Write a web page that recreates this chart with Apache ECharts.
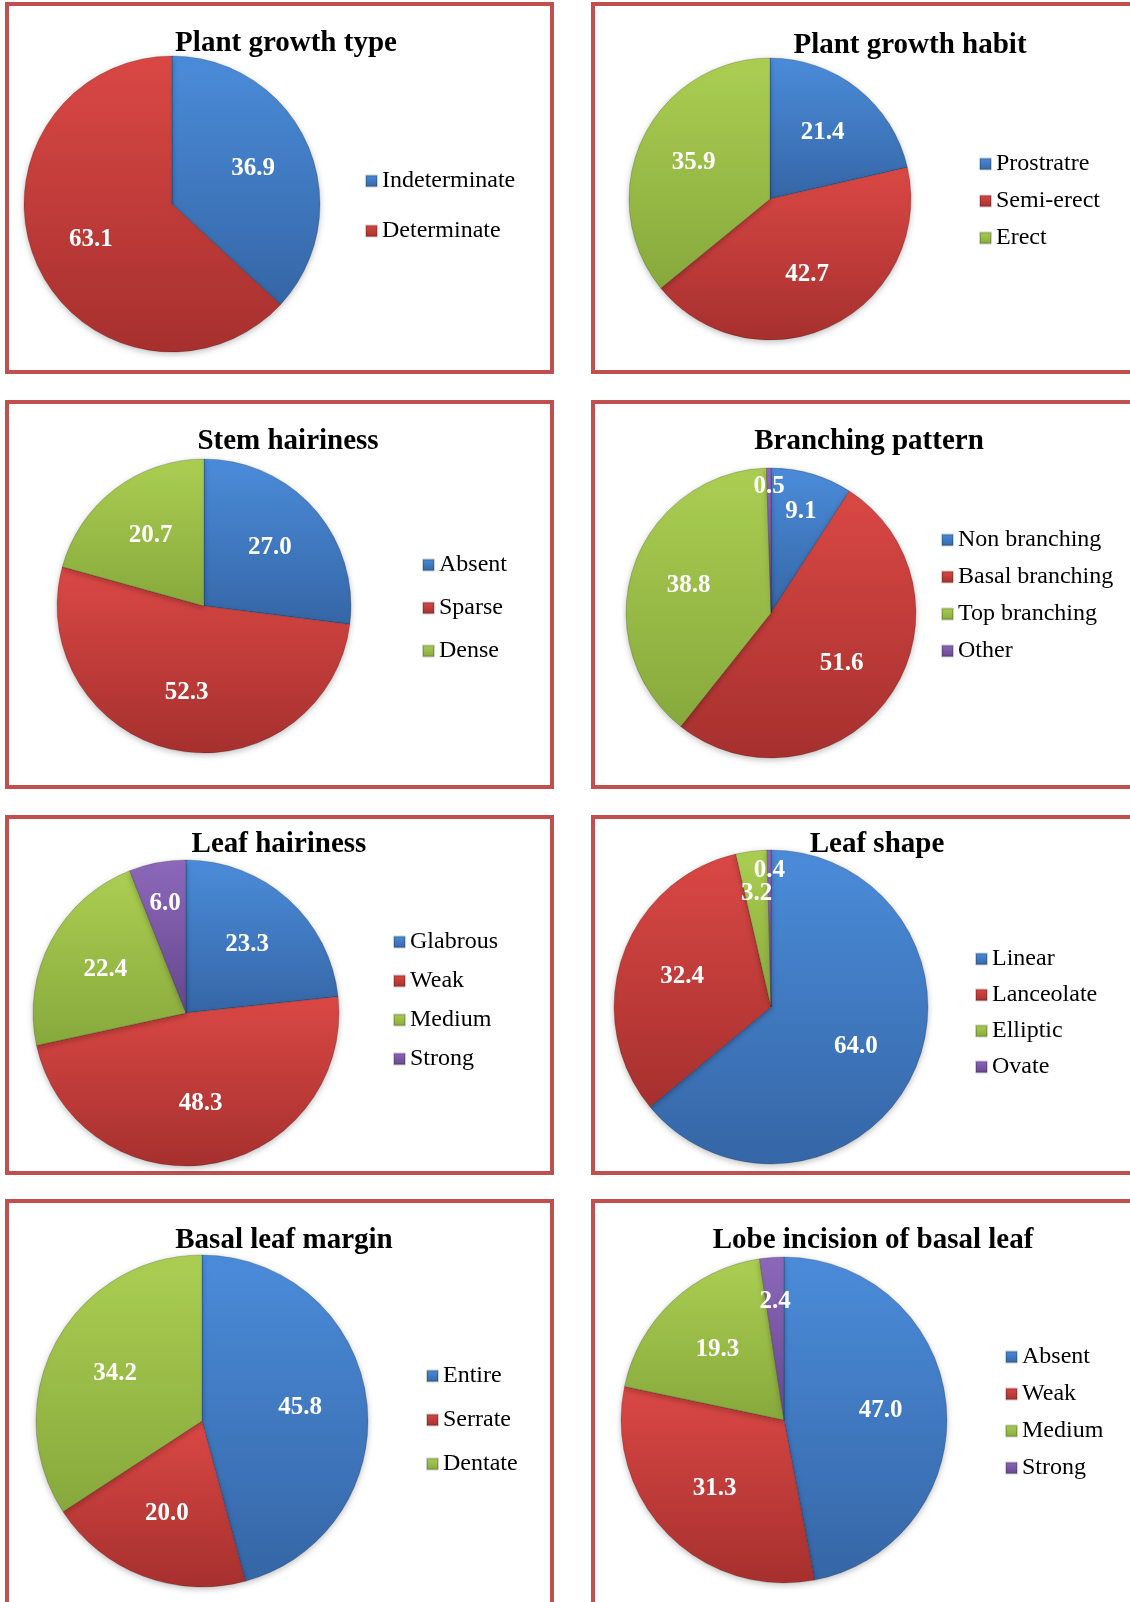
<!DOCTYPE html>
<html><head><meta charset="utf-8">
<script src="https://cdn.jsdelivr.net/npm/echarts@6/dist/echarts.min.js"></script>
<style>html,body{margin:0;padding:0;background:#fff}#c{width:1130px;height:1602px}</style>
</head><body><div id="c"></div>
<script>
// ---------- data ----------
const chartTitles = ['Plant growth type','Plant growth habit','Stem hairiness','Branching pattern','Leaf hairiness','Leaf shape','Basal leaf margin','Lobe incision of basal leaf'];
const growthTypeCats = ['Indeterminate','Determinate'];
const growthTypeVals = [36.9, 63.1];
const growthHabitCats = ['Prostratre','Semi-erect','Erect'];
const growthHabitVals = [21.4, 42.7, 35.9];
const stemHairCats = ['Absent','Sparse','Dense'];
const stemHairVals = [27.0, 52.3, 20.7];
const branchingCats = ['Non branching','Basal branching','Top branching','Other'];
const branchingVals = [9.1, 51.6, 38.8, 0.5];
const leafHairCats = ['Glabrous','Weak','Medium','Strong'];
const leafHairVals = [23.3, 48.3, 22.4, 6.0];
const leafShapeCats = ['Linear','Lanceolate','Elliptic','Ovate'];
const leafShapeVals = [64.0, 32.4, 3.2, 0.4];
const marginCats = ['Entire','Serrate','Dentate'];
const marginVals = [45.8, 20.0, 34.2];
const lobeCats = ['Absent','Weak','Medium','Strong'];
const lobeVals = [47.0, 31.3, 19.3, 2.4];

const allCats = [growthTypeCats, growthHabitCats, stemHairCats, branchingCats, leafHairCats, leafShapeCats, marginCats, lobeCats];
const allVals = [growthTypeVals, growthHabitVals, stemHairVals, branchingVals, leafHairVals, leafShapeVals, marginVals, lobeVals];

// ---------- layout / style ----------
const pieGeom = [ // cx, cy, r
  [172, 204, 148], [770, 199, 141],
  [204, 606, 147], [771, 613, 145],
  [186, 1013, 153], [771, 1007, 157],
  [202, 1421, 166], [784, 1420, 163]
];
const titlePos = [[286,44],[910,46],[288,442],[869,442],[279,845],[877,845],[284,1241],[873,1241]];
const legendPos = [ // left, top, gap
  [360,164,26],[974,147,13],[417,548,19],[936,523,13],
  [388,925,15],[970,942,12],[421,1359,20],[1000,1340,13]
];
const panels = [ // x, y, w, h
  [7,4,545,368],[593,4,560,368],
  [7,402,545,385],[593,402,560,385],
  [7,817,545,356],[593,817,560,356],
  [7,1201,545,430],[593,1201,560,430]
];
const palette = [
  ['#4b8cda','#3566a6'],
  ['#da4845','#a6302e'],
  ['#abce52','#87a93c'],
  ['#8d68bb','#65478d']
];
function grad(i){
  return {type:'linear',x:0,y:0,x2:0,y2:1,colorStops:[{offset:0,color:palette[i][0]},{offset:1,color:palette[i][1]}]};
}
const serif = '"Liberation Serif","Times New Roman",serif';

const series = [], legends = [], graphics = [];
panels.forEach(p => graphics.push({type:'rect', shape:{x:p[0],y:p[1],width:p[2],height:p[3]}, style:{fill:'#fff', stroke:'#c0504d', lineWidth:4}, z:-10}));
chartTitles.forEach((t,i) => graphics.push({type:'text', x:titlePos[i][0], y:titlePos[i][1], style:{text:t, font:'bold 29px '+serif, fill:'#000', textAlign:'center', textVerticalAlign:'middle'}}));

allVals.forEach((vals, s) => {
  const g = pieGeom[s];
  series.push({
    type:'pie',
    center:[g[0], g[1]],
    radius:[0, g[2]],
    startAngle:90,
    clockwise:true,
    silent:true,
    animation:false,
    data: vals.map((v,i) => ({name: allCats[s][i], value: v, itemStyle:{color: grad(i)}})),
    itemStyle:{borderColor:'rgba(0,0,0,0.18)', borderWidth:1, shadowBlur:6, shadowColor:'rgba(0,0,0,0.25)', shadowOffsetY:2},
    label:{show:true, position:'inside', formatter: p => p.value.toFixed(1), color:'#fff', fontFamily:serif, fontWeight:'bold', fontSize:25},
    labelLine:{show:false},
    labelLayout: function(p){
      const v = allVals[p.seriesIndex][p.dataIndex];
      const f = v < 1 ? 1.68 : (v < 10 ? 1.4 : 1.15);
      const lx = p.labelRect.x + p.labelRect.width/2;
      const ly = p.labelRect.y + p.labelRect.height/2;
      const c = pieGeom[p.seriesIndex];
      return {x: c[0] + (lx - c[0]) * f, y: c[1] + (ly - c[1]) * f};
    }
  });
  const L = legendPos[s];
  legends.push({
    data: allCats[s],
    orient:'vertical',
    left:L[0], top:L[1], itemGap:L[2],
    itemWidth:11, itemHeight:11, icon:'rect',
    selectedMode:false,
    textStyle:{fontFamily:serif, fontSize:24, color:'#000', lineHeight:24}
  });
});

const chart = echarts.init(document.getElementById('c'), null, {renderer:'canvas'});
chart.setOption({backgroundColor:'#fff', animation:false, legend:legends, series:series, graphic:graphics});
</script></body></html>
